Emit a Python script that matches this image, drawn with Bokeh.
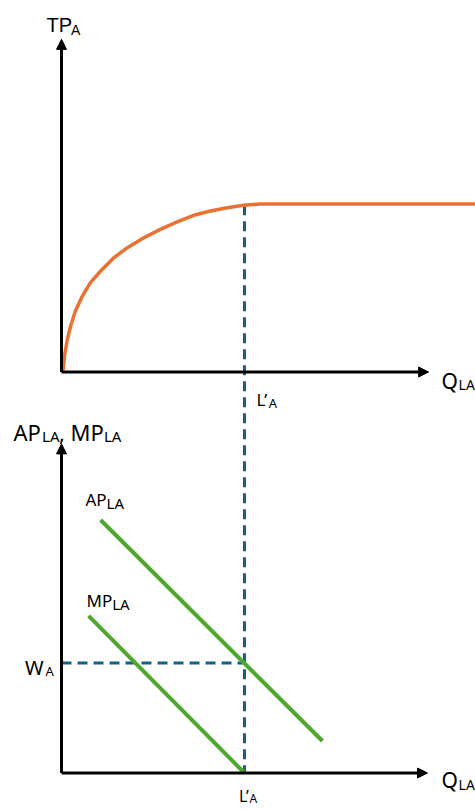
from bokeh.plotting import figure
from bokeh.models import Range1d, Arrow, NormalHead, ColumnDataSource
from bokeh.core.properties import value
from bokeh.embed import file_html
from bokeh.resources import INLINE

# ---------------- data ----------------
# Upper panel: total product curve TP_A against labour Q_LA
tp_x = [0.0, 0.05, 0.08, 0.16, 0.25, 0.38, 0.57, 0.79, 1.07, 1.43, 1.80, 2.25,
        2.70, 3.16, 3.61, 4.07, 4.53, 4.98, 5.44, 5.89, 8.0, 10.0, 12.0]
tp_y = [0.0, 0.16, 0.95, 1.95, 2.74, 3.63, 4.52, 5.32, 6.01, 6.80, 7.40, 7.99,
        8.49, 8.93, 9.33, 9.58, 9.78, 9.92, 10.0, 10.0, 10.0, 10.0, 10.0]
L_prime = 5.0          # L'_A
tp_at_L = 9.92         # TP at L'_A

# Lower panel: average and marginal product lines
ap_x = [1.07, 7.13]
ap_y = [7.44, 0.94]
mp_x = [0.74, 5.0]
mp_y = [4.62, 0.0]
w_A = 3.235            # wage level W_A (AP at L'_A)

# axis extents (arrow tips)
top_x_max, top_y_max = 10.03, 19.8
bot_x_max, bot_y_max = 10.0, 9.68

# ---------------- layout ----------------
W, H = 475, 809
X0_PX, PX_PER_X = 61.0, 36.6
TOP_ORIGIN_PX, PX_PER_TOP = 371.5, 16.8
BOT_ORIGIN_PX, PX_PER_BOT = 772.5, 34.0

ORANGE = "#E97132"
GREEN = "#4EA72E"
TEAL = "#156082"
FONT = "Noto Sans"

p = figure(width=W, height=H, output_backend="svg", toolbar_location=None,
           x_axis_type=None, y_axis_type=None, min_border=0,
           x_range=Range1d(-X0_PX / PX_PER_X, (W - X0_PX) / PX_PER_X),
           y_range=Range1d(-(H - BOT_ORIGIN_PX) / PX_PER_BOT, BOT_ORIGIN_PX / PX_PER_BOT))
p.extra_y_ranges = {"top": Range1d(-(H - TOP_ORIGIN_PX) / PX_PER_TOP, TOP_ORIGIN_PX / PX_PER_TOP)}
p.outline_line_color = None
p.background_fill_color = "white"
p.border_fill_color = "white"

# dashed guide lines
tp_L_canvas = TOP_ORIGIN_PX - tp_at_L * PX_PER_TOP
tp_L_in_bottom = (BOT_ORIGIN_PX - tp_L_canvas) / PX_PER_BOT
p.line([L_prime, L_prime], [tp_L_in_bottom, 0.0], line_color=TEAL, line_width=3,
       line_dash="10 6")
p.line([0.0, L_prime], [w_A, w_A], line_color=TEAL, line_width=3, line_dash="10 6")

# curves
p.line(tp_x, tp_y, y_range_name="top", line_color=ORANGE, line_width=3.5,
       line_join="round")
p.line(ap_x, ap_y, line_color=GREEN, line_width=4)
p.line(mp_x, mp_y, line_color=GREEN, line_width=4)

# axes with arrows
def axis_arrow(x_end, y_end, rng):
    kw = {} if rng is None else {"y_range_name": rng}
    p.add_layout(Arrow(x_start=0, y_start=0, x_end=x_end, y_end=y_end,
                       line_width=3, line_color="black",
                       end=NormalHead(size=10, fill_color="black", line_color="black",
                                      line_width=1), **kw))

axis_arrow(top_x_max, 0, "top")
axis_arrow(0, top_y_max, "top")
axis_arrow(bot_x_max, 0, None)
axis_arrow(0, bot_y_max, None)

# labels: (text, x, y) in data units, baseline-left anchored
def labels(xs, ys, texts, size, rng=None, font=FONT):
    src = ColumnDataSource(dict(x=xs, y=ys, text=texts))
    kw = {} if rng is None else {"y_range_name": rng}
    p.text(x="x", y="y", text="text", source=src, text_font=value(font),
           text_font_size=size, text_color="black", text_align="left",
           text_baseline="alphabetic", **kw)

# upper panel
labels([-0.41], [20.63], ["TP"], "20px", "top", "Liberation Sans")
labels([0.26], [20.33], ["A"], "14px", "top", "Liberation Sans")
labels([10.38], [-0.51], ["Q"], "21px", "top")
labels([10.85], [-0.74], ["LA"], "14px", "top")
labels([5.33], [-1.64], ["L’"], "17px", "top")
labels([5.66], [-1.82], ["A"], "13px", "top")

# lower panel
labels([-1.31, -0.07], [10.04, 10.04], ["AP", ", MP"], "22px")
labels([-0.53, 1.16], [9.92, 9.92], ["LA", "LA"], "15px")
labels([0.656, 0.683], [8.03, 5.07], ["AP", "MP"], "17px")
labels([1.23, 1.385], [7.93, 4.97], ["LA", "LA"], "15px")
labels([-1.0], [3.10], ["W"], "20px")
labels([-0.437], [3.01], ["A"], "13px")
labels([10.38], [-0.22], ["Q"], "21px")
labels([10.85], [-0.34], ["LA"], "14px")
labels([4.85], [-0.68], ["L’"], "16px")
labels([5.14], [-0.76], ["A"], "12px")

open("out.html", "w").write(file_html(p, INLINE))
